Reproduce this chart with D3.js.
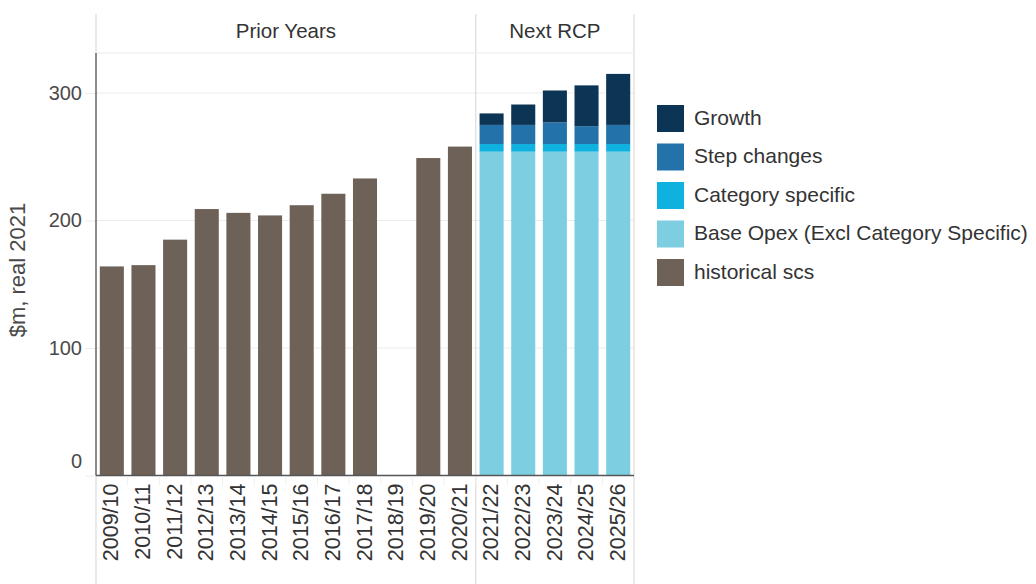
<!DOCTYPE html>
<html>
<head>
<meta charset="utf-8">
<script src="https://cdn.jsdelivr.net/npm/d3@7"></script>
<style>
  html, body { margin: 0; padding: 0; background: #fff; }
  svg { display: block; font-family: "Liberation Sans", Arial, sans-serif; }
</style>
</head>
<body>
<svg id="chart" width="1036" height="584"></svg>
<script>
// Financial years on the x axis
const years = ["2009/10","2010/11","2011/12","2012/13","2013/14","2014/15","2015/16","2016/17","2017/18","2018/19","2019/20","2020/21","2021/22","2022/23","2023/24","2024/25","2025/26"];
const priorYears = years.slice(0, 12);
const rcpYears = years.slice(12);

// Historical standard control services, $m real 2021 (2018/19 not reported)
const historical = [164, 165, 185, 209, 206, 204, 212, 221, 233, null, 249, 258];

// Forecast building blocks for the next RCP
const baseOpex = [254, 254, 254, 254, 254];
const categorySpecific = [6, 6, 6, 6, 6];
const stepChanges = [15, 15, 17, 14, 15];
const growth = [9, 16, 25, 32, 40];

const yTicks = [0, 100, 200, 300];
const panelLabels = ["Prior Years", "Next RCP"];

const seriesNames = ["Base Opex (Excl Category Specific)", "Category specific", "Step changes", "Growth"];
const legendOrder = ["Growth", "Step changes", "Category specific", "Base Opex (Excl Category Specific)", "historical scs"];
const colours = {
  "Growth": "#0c3454",
  "Step changes": "#2372aa",
  "Category specific": "#0fb1de",
  "Base Opex (Excl Category Specific)": "#7dcee0",
  "historical scs": "#6e6157"
};

const svg = d3.select("#chart");
const left = 96, right = 634, stripTop = 14, panelTop = 53, panelBottom = 475.5;

const x = d3.scaleBand().domain(years).range([left, right]).paddingInner(0.24).paddingOuter(0.12);
const y = d3.scaleLinear().domain([0, 331.4]).range([panelBottom, panelTop]);

// Gridlines and y tick labels
const yAxis = d3.axisLeft(y).tickValues(yTicks).tickSize(11).tickPadding(3);
const gy = svg.append("g").attr("transform", `translate(${left},0)`).call(yAxis);
gy.select(".domain").remove();
gy.selectAll(".tick line").attr("stroke", "#ececec");
gy.selectAll(".tick text")
  .attr("fill", "#4a4a4a").style("font-size", "20px")
  .attr("dy", d => d === 0 ? "-0.4em" : "0.32em");
svg.append("g").selectAll("line").data(yTicks.filter(d => d > 0)).join("line")
  .attr("x1", left).attr("x2", right)
  .attr("y1", d => y(d)).attr("y2", d => y(d))
  .attr("stroke", "#ececec").attr("stroke-width", 1);

// Facet frame: strip row, panel divider and outer edges
const divider = (x(rcpYears[0]) + x(priorYears[priorYears.length - 1]) + x.bandwidth()) / 2;
const frame = svg.append("g").attr("stroke", "#dcdcdc").attr("stroke-width", 1.2);
[left, divider, right].forEach(px => {
  frame.append("line").attr("x1", px).attr("x2", px).attr("y1", stripTop).attr("y2", 584);
});
frame.append("line").attr("x1", left).attr("x2", right).attr("y1", panelTop).attr("y2", panelTop).attr("stroke", "#ececec");

// Strip labels
const stripCentres = [(left + divider) / 2, (divider + right) / 2];
svg.append("g").selectAll("text").data(panelLabels).join("text")
  .attr("x", (d, i) => stripCentres[i]).attr("y", 33)
  .attr("text-anchor", "middle").attr("dominant-baseline", "middle")
  .attr("fill", "#333").style("font-size", "20.5px")
  .text(d => d);

// Historical bars
svg.append("g").selectAll("rect")
  .data(priorYears.map((yr, i) => ({ yr, v: historical[i] })).filter(d => d.v != null))
  .join("rect")
  .attr("x", d => x(d.yr)).attr("width", x.bandwidth())
  .attr("y", d => y(d.v)).attr("height", d => y(0) - y(d.v))
  .attr("fill", colours["historical scs"]);

// Stacked forecast bars
const rows = rcpYears.map((yr, i) => ({
  yr,
  "Base Opex (Excl Category Specific)": baseOpex[i],
  "Category specific": categorySpecific[i],
  "Step changes": stepChanges[i],
  "Growth": growth[i]
}));
const stacked = d3.stack().keys(seriesNames)(rows);
svg.append("g").selectAll("g").data(stacked).join("g")
  .attr("fill", s => colours[s.key])
  .selectAll("rect").data(s => s).join("rect")
  .attr("x", d => x(d.data.yr)).attr("width", x.bandwidth())
  .attr("y", d => y(d[1])).attr("height", d => y(d[0]) - y(d[1]));

// Axis lines
svg.append("line").attr("x1", left).attr("x2", left).attr("y1", panelTop).attr("y2", panelBottom)
  .attr("stroke", "#6b6b6b").attr("stroke-width", 1.5);
svg.append("line").attr("x1", left).attr("x2", right).attr("y1", panelBottom).attr("y2", panelBottom)
  .attr("stroke", "#555").attr("stroke-width", 1.5);

// Faint separators between x labels
const step = x.step();
svg.append("g").selectAll("line").data(years.slice(1)).join("line")
  .attr("x1", d => x(d) - (step - x.bandwidth()) / 2).attr("x2", d => x(d) - (step - x.bandwidth()) / 2)
  .attr("y1", panelBottom + 1).attr("y2", panelBottom + 10)
  .attr("stroke", "#efefef");

// X labels, rotated
svg.append("g").selectAll("text").data(years).join("text")
  .attr("transform", d => `translate(${x(d) + x.bandwidth() / 2 + 1},${panelBottom + 8}) rotate(-90)`)
  .attr("text-anchor", "end").attr("dominant-baseline", "middle")
  .attr("fill", "#333").style("font-size", "21.5px")
  .text(d => d);

// Y axis title
svg.append("text")
  .attr("transform", "translate(19,270) rotate(-90)")
  .attr("text-anchor", "middle").attr("dominant-baseline", "middle")
  .attr("fill", "#4a4a4a").style("font-size", "22px")
  .text("$m, real 2021");

// Legend
const legend = svg.append("g").attr("transform", "translate(657,105)");
const items = legend.selectAll("g").data(legendOrder).join("g")
  .attr("transform", (d, i) => `translate(0,${i * 38.5})`);
items.append("rect").attr("width", 27).attr("height", 27).attr("fill", d => colours[d]);
items.append("text").attr("x", 37).attr("y", 14)
  .attr("dominant-baseline", "middle").attr("fill", "#333").style("font-size", "21px")
  .text(d => d);
</script>
</body>
</html>
